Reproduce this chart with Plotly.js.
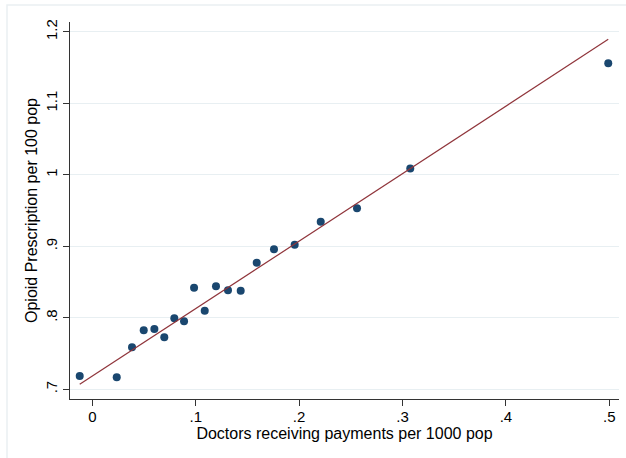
<!DOCTYPE html>
<html>
<head>
<meta charset="utf-8">
<script src="https://cdn.plot.ly/plotly-3.0.1.min.js"></script>
<style>
html,body{margin:0;padding:0;background:#fff;}
#chart{width:626px;height:458px;}
</style>
</head>
<body>
<div id="chart"></div>
<script>
// Data
const doctorsPaid = [-0.0122, 0.0236, 0.0384, 0.0497, 0.0600, 0.0696, 0.0793, 0.0887, 0.0984, 0.1087,
                     0.1196, 0.1312, 0.1435, 0.1590, 0.1757, 0.1957, 0.2209, 0.2560, 0.3075, 0.4990];
const opioidRx    = [0.7186, 0.7168, 0.7587, 0.7825, 0.7843, 0.7727, 0.7993, 0.7951, 0.8421, 0.8099,
                     0.8441, 0.8385, 0.8379, 0.8771, 0.8958, 0.9022, 0.9344, 0.9531, 1.0088, 1.1559];
const xTickVals = [0, 0.1, 0.2, 0.3, 0.4, 0.5];
const xTickText = ['0', '.1', '.2', '.3', '.4', '.5'];
const yTickVals = [0.7, 0.8, 0.9, 1.0, 1.1, 1.2];
const yTickText = ['.7', '.8', '.9', '1', '1.1', '1.2'];

// Fitted line as shown in the reference (fit on underlying data)
const fitIntercept = 0.7184;
const fitSlope = 0.944;
const fitX = [Math.min(...doctorsPaid), Math.max(...doctorsPaid)];
const fitY = fitX.map(x => fitIntercept + fitSlope * x);

const tickFont = {family: 'Liberation Sans, Arial, sans-serif', size: 15, color: '#000'};
const titleFont = {family: 'Liberation Sans, Arial, sans-serif', size: 16, color: '#000'};

const traces = [
  {x: doctorsPaid, y: opioidRx, type: 'scatter', mode: 'markers',
   marker: {color: '#1a476f', size: 8, line: {width: 0}}, hoverinfo: 'x+y'},
  {x: fitX, y: fitY, type: 'scatter', mode: 'lines',
   line: {color: '#90353b', width: 1.2}, hoverinfo: 'skip'}
];

const W = 626, H = 458, L = 70, R = 7, T = 22, B = 59;
const pw = W - L - R, ph = H - T - B;

const layout = {
  width: W, height: H,
  margin: {l: L, r: R, t: T, b: B, pad: 0},
  paper_bgcolor: '#fff', plot_bgcolor: '#fff',
  showlegend: false,
  font: tickFont,
  xaxis: {
    range: [-0.0216, 0.5094], tickmode: 'array', tickvals: xTickVals, ticktext: xTickText,
    showgrid: false, zeroline: false, showline: true, linecolor: '#333', linewidth: 1,
    ticks: 'outside', ticklen: 6, tickcolor: '#333', tickwidth: 1,
    tickfont: tickFont, automargin: false, ticklabelstandoff: -2,
    title: {text: 'Doctors receiving payments per 1000 pop', font: titleFont, standoff: 3}
  },
  yaxis: {
    range: [0.6864, 1.2137], tickmode: 'array', tickvals: yTickVals, ticktext: yTickText,
    tickangle: -90,
    showgrid: true, gridcolor: '#e8eff2', gridwidth: 1, zeroline: false,
    showline: true, linecolor: '#333', linewidth: 1,
    ticks: 'outside', ticklen: 6, tickcolor: '#333', tickwidth: 1,
    tickfont: tickFont, automargin: false,
    title: {text: 'Opioid Prescription per 100 pop', font: titleFont, standoff: 1}
  },
  shapes: [
    {type: 'rect', xref: 'paper', yref: 'paper', layer: 'below',
     x0: (7 - L) / pw, x1: (W + 20 - L) / pw,
     y0: (H - B - (H + 20)) / ph, y1: (H - B - 5) / ph,
     line: {color: '#eaf0f2', width: 1.5}, fillcolor: 'rgba(0,0,0,0)'}
  ]
};

Plotly.newPlot('chart', traces, layout, {displayModeBar: false, staticPlot: true});
</script>
</body>
</html>
